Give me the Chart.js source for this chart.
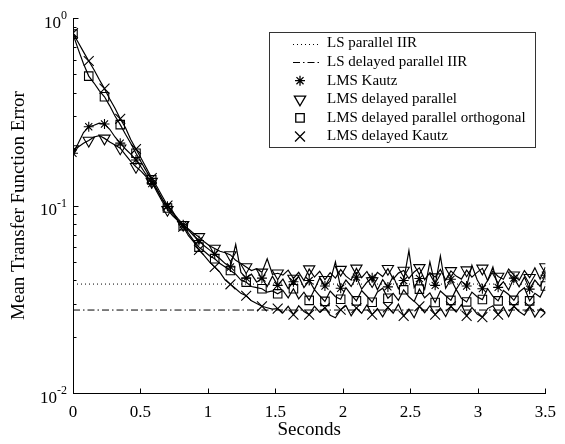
<!DOCTYPE html>
<html>
<head>
<meta charset="utf-8">
<script src="https://cdn.jsdelivr.net/npm/chart.js@4.4.1/dist/chart.umd.min.js"></script>
<style>
  html, body { margin: 0; padding: 0; background: #fff; }
</style>
</head>
<body>
<canvas id="errChart" width="565" height="444"></canvas>
<script>
// sample grid of the adaptive runs: 91 samples over 3.5 s
const T_END = 3.5;
const N_SAMPLES = 91;
const times = [];
for (let i = 0; i < N_SAMPLES; i++) times.push(i * T_END / (N_SAMPLES - 1));

const xTicks = [0, 0.5, 1, 1.5, 2, 2.5, 3, 3.5];
const yDecades = [0.01, 0.1, 1];
const yExponents = ['-2', '-1', '0'];

// LS reference levels (constant over the run)
const lsTimes = [0, 3.5];
const lsParallelIIR = [0.0381, 0.0381];
const lsDelayedParallelIIR = [0.0277, 0.0277];

// LMS learning curves
const lmsKautz = [
  0.190, 0.215, 0.245, 0.263, 0.268, 0.275, 0.272, 0.255, 0.232, 0.215,
  0.200, 0.188, 0.175, 0.160, 0.145, 0.131, 0.121, 0.108, 0.099, 0.092,
  0.085, 0.079, 0.074, 0.069, 0.065, 0.061, 0.058, 0.055, 0.052, 0.049,
  0.047, 0.062, 0.044, 0.041, 0.043, 0.039, 0.041, 0.037, 0.042, 0.0375,
  0.0405, 0.0360, 0.0392, 0.0418, 0.0365, 0.0398, 0.0356, 0.0410, 0.0372, 0.0395,
  0.0500, 0.0362, 0.0400, 0.0370, 0.0415, 0.0358, 0.0390, 0.0412, 0.0355, 0.0402,
  0.0368, 0.0420, 0.0360, 0.0398, 0.0575, 0.0365, 0.0408, 0.0357, 0.0500, 0.0375,
  0.0538, 0.0362, 0.0404, 0.0356, 0.0395, 0.0372, 0.0480, 0.0402, 0.0360, 0.0398,
  0.0470, 0.0366, 0.0392, 0.0354, 0.0410, 0.0368, 0.0415, 0.0358, 0.0400, 0.0370,
  0.0425
];
const lmsDelayedParallel = [
  0.200, 0.205, 0.215, 0.222, 0.232, 0.236, 0.228, 0.218, 0.210, 0.202,
  0.186, 0.172, 0.161, 0.152, 0.142, 0.134, 0.118, 0.105, 0.095, 0.088,
  0.083, 0.079, 0.075, 0.071, 0.068, 0.064, 0.061, 0.059, 0.057, 0.056,
  0.0545, 0.051, 0.049, 0.047, 0.045, 0.046, 0.044, 0.052, 0.043, 0.0435,
  0.0425, 0.0452, 0.0408, 0.0440, 0.0398, 0.0458, 0.0415, 0.0446, 0.0402, 0.0438,
  0.0410, 0.0455, 0.0420, 0.0400, 0.0462, 0.0412, 0.0445, 0.0396, 0.0440, 0.0418,
  0.0460, 0.0405, 0.0436, 0.0450, 0.0408, 0.0442, 0.0465, 0.0402, 0.0438, 0.0415,
  0.0456, 0.0400, 0.0448, 0.0420, 0.0405, 0.0452, 0.0415, 0.0440, 0.0462, 0.0398,
  0.0447, 0.0418, 0.0404, 0.0458, 0.0425, 0.0399, 0.0450, 0.0412, 0.0465, 0.0405,
  0.0470
];
const lmsDelayedParallelOrth = [
  0.820, 0.680, 0.570, 0.490, 0.450, 0.410, 0.380, 0.340, 0.300, 0.270,
  0.240, 0.215, 0.190, 0.170, 0.152, 0.137, 0.122, 0.108, 0.097, 0.090,
  0.083, 0.078, 0.071, 0.065, 0.060, 0.057, 0.054, 0.052, 0.049, 0.047,
  0.045, 0.043, 0.040, 0.039, 0.037, 0.0365, 0.036, 0.0345, 0.0350, 0.0338,
  0.0352, 0.0322, 0.0360, 0.0318, 0.0345, 0.0312, 0.0356, 0.0330, 0.0308, 0.0350,
  0.0326, 0.0316, 0.0365, 0.0334, 0.0310, 0.0352, 0.0328, 0.0305, 0.0346, 0.0362,
  0.0320, 0.0340, 0.0312, 0.0355, 0.0326, 0.0308, 0.0358, 0.0322, 0.0342, 0.0304,
  0.0350, 0.0330, 0.0312, 0.0357, 0.0320, 0.0306, 0.0345, 0.0326, 0.0315, 0.0360,
  0.0328, 0.0310, 0.0352, 0.0335, 0.0312, 0.0346, 0.0364, 0.0310, 0.0340, 0.0325,
  0.0372
];
const lmsDelayedKautz = [
  0.830, 0.740, 0.660, 0.590, 0.530, 0.470, 0.420, 0.370, 0.330, 0.290,
  0.260, 0.225, 0.200, 0.178, 0.158, 0.140, 0.126, 0.112, 0.100, 0.093,
  0.083, 0.077, 0.069, 0.064, 0.058, 0.054, 0.050, 0.047, 0.044, 0.040,
  0.038, 0.036, 0.034, 0.033, 0.031, 0.030, 0.029, 0.0285, 0.0280, 0.0282,
  0.0268, 0.0290, 0.0262, 0.0292, 0.0272, 0.0262, 0.0290, 0.0270, 0.0285, 0.0260,
  0.0252, 0.0278, 0.0292, 0.0258, 0.0284, 0.0266, 0.0295, 0.0262, 0.0282, 0.0255,
  0.0286, 0.0266, 0.0298, 0.0258, 0.0280, 0.0252, 0.0290, 0.0268, 0.0292, 0.0262,
  0.0284, 0.0256, 0.0290, 0.0270, 0.0296, 0.0258, 0.0286, 0.0264, 0.0254, 0.0282,
  0.0292, 0.0262, 0.0288, 0.0255, 0.0290, 0.0272, 0.0260, 0.0288, 0.0254, 0.0280,
  0.0268
];

const FONT = "'Liberation Serif', 'Times New Roman', serif";
const MARK_EVERY = 3;

function toPoints(xs, ys) {
  return ys.map((y, i) => ({ x: xs[i], y: y }));
}

function lmsSet(label, values, style, radius, rotation) {
  return {
    label: label,
    data: toPoints(times, values),
    borderColor: '#000',
    borderWidth: 1.2,
    pointStyle: style,
    pointRotation: rotation || 0,
    pointBorderColor: '#000',
    pointBackgroundColor: 'rgba(0,0,0,0)',
    pointBorderWidth: 1.1,
    pointRadius: ctx => (ctx.dataIndex % MARK_EVERY === 0 ? radius : 0),
    legendRadius: radius,
    tension: 0
  };
}

const datasets = [
  {
    label: 'LS parallel IIR',
    data: toPoints(lsTimes, lsParallelIIR),
    borderColor: '#000', borderWidth: 1, borderDash: [1, 3],
    pointRadius: 0, isLine: true
  },
  {
    label: 'LS delayed parallel IIR',
    data: toPoints(lsTimes, lsDelayedParallelIIR),
    borderColor: '#000', borderWidth: 1, borderDash: [7, 3, 1.5, 3],
    pointRadius: 0, isLine: true
  },
  lmsSet('LMS Kautz', lmsKautz, 'star', 5),
  lmsSet('LMS delayed parallel', lmsDelayedParallel, 'triangle', 6.5, 180),
  lmsSet('LMS delayed parallel orthogonal', lmsDelayedParallelOrth, 'rect', 6),
  lmsSet('LMS delayed Kautz', lmsDelayedKautz, 'crossRot', 7)
];

// inward ticks, 10^n labels and the boxed legend
const decorPlugin = {
  id: 'decor',
  afterDraw(chart) {
    const ctx = chart.ctx;
    const xs = chart.scales.x, ys = chart.scales.y;
    const area = chart.chartArea;
    const left = Math.round(area.left) + 0.5;
    const bottom = Math.round(area.bottom) + 0.5;
    ctx.save();
    ctx.strokeStyle = '#000';
    ctx.lineWidth = 1;

    // y ticks: majors at decades, minors at 2..9
    ctx.beginPath();
    yDecades.forEach((d, k) => {
      const last = k === yDecades.length - 1;
      for (let m = 1; m <= (last ? 1 : 9); m++) {
        const y = Math.round(ys.getPixelForValue(d * m)) + 0.5;
        const len = m === 1 ? 5 : 3;
        ctx.moveTo(left, y);
        ctx.lineTo(left + len, y);
      }
    });
    // x ticks
    xTicks.forEach(v => {
      const x = Math.round(xs.getPixelForValue(v)) + 0.5;
      ctx.moveTo(x, bottom);
      ctx.lineTo(x, bottom - 5);
    });
    ctx.stroke();

    // y labels as 10 with superscript exponent
    ctx.fillStyle = '#000';
    ctx.textBaseline = 'alphabetic';
    ctx.textAlign = 'left';
    yDecades.forEach((d, k) => {
      const y = ys.getPixelForValue(d);
      ctx.font = '17px ' + FONT;
      const wBase = ctx.measureText('10').width;
      ctx.font = '12px ' + FONT;
      const wExp = ctx.measureText(yExponents[k]).width;
      const x0 = area.left - 6 - wBase - wExp;
      ctx.font = '17px ' + FONT;
      ctx.fillText('10', x0, y + 9.5);
      ctx.font = '12px ' + FONT;
      ctx.fillText(yExponents[k], x0 + wBase, y + 1);
    });

    // legend
    const bx = 269.5, by = 32.5, bw = 266, bh = 115;
    ctx.fillStyle = '#fff';
    ctx.fillRect(bx, by, bw, bh);
    ctx.strokeStyle = '#333';
    ctx.strokeRect(bx, by, bw, bh);
    ctx.font = '15px ' + FONT;
    ctx.textBaseline = 'middle';
    ctx.fillStyle = '#000';
    chart.data.datasets.forEach((ds, k) => {
      const cy = 43.5 + k * 18.6;
      ctx.strokeStyle = '#000';
      if (ds.isLine) {
        ctx.save();
        ctx.lineWidth = 1;
        ctx.setLineDash(ds.borderDash || []);
        ctx.beginPath();
        ctx.moveTo(293, Math.round(cy) + 0.5);
        ctx.lineTo(320, Math.round(cy) + 0.5);
        ctx.stroke();
        ctx.restore();
      } else if (Chart.helpers && Chart.helpers.drawPoint) {
        ctx.save();
        ctx.lineWidth = 1.3;
        ctx.fillStyle = 'rgba(0,0,0,0)';
        Chart.helpers.drawPoint(ctx, {
          pointStyle: ds.pointStyle,
          rotation: ds.pointRotation || 0,
          radius: ds.legendRadius,
          borderWidth: 1.3
        }, 300, cy);
        ctx.restore();
      }
      ctx.fillStyle = '#000';
      ctx.fillText(ds.label, 327, cy);
    });
    ctx.restore();
  }
};

const config = {
  type: 'line',
  data: { datasets: datasets },
  options: {
    responsive: false,
    animation: false,
    devicePixelRatio: 1,
    layout: { padding: { top: 18, right: 17, left: 0, bottom: 0 } },
    plugins: {
      legend: { display: false },
      tooltip: { enabled: false }
    },
    scales: {
      x: {
        type: 'linear',
        min: 0,
        max: 3.5,
        afterBuildTicks: axis => { axis.ticks = xTicks.map(v => ({ value: v })); },
        ticks: {
          color: '#000', font: { family: FONT, size: 17 }, padding: 9, maxRotation: 0,
          callback: v => String(v)
        },
        grid: { drawOnChartArea: false, drawTicks: false },
        border: { color: '#000', width: 1 },
        title: { display: true, text: 'Seconds', color: '#000', font: { family: FONT, size: 19 }, padding: { top: 0, bottom: 3 } },
        afterFit: axis => { axis.height = 51; }
      },
      y: {
        type: 'logarithmic',
        min: 0.01,
        max: 1,
        ticks: { display: false },
        grid: { drawOnChartArea: false, drawTicks: false },
        border: { color: '#000', width: 1 },
        title: { display: true, text: 'Mean Transfer Function Error', color: '#000', font: { family: FONT, size: 19 }, padding: { top: 8, bottom: 0 } },
        afterFit: axis => { axis.width = 73; }
      }
    }
  },
  plugins: [decorPlugin]
};

const ctx1 = document.getElementById('errChart').getContext('2d');
new Chart(ctx1, config);
</script>
</body>
</html>
